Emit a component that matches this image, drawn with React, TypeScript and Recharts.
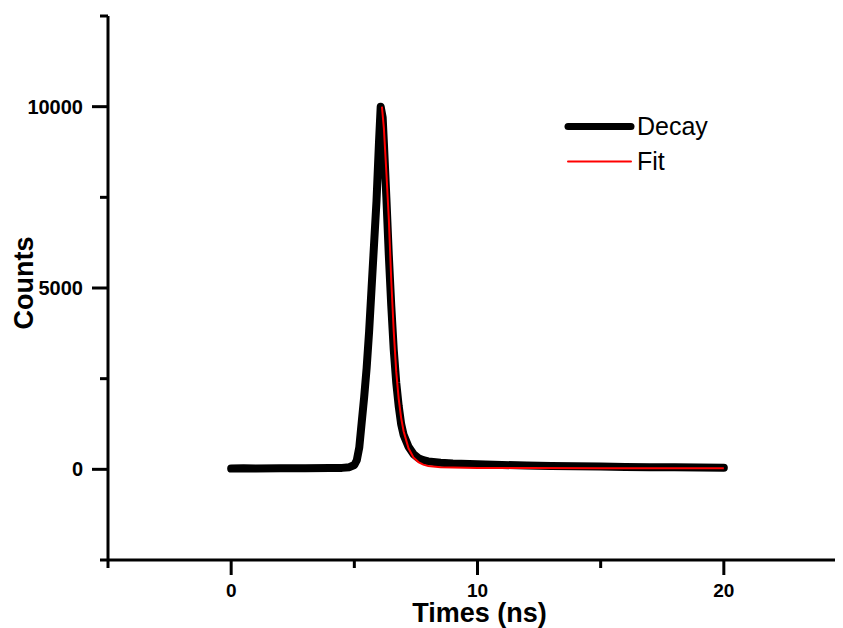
import React from 'react';
import { LineChart, Line, XAxis, YAxis, Legend, Label } from 'recharts';

const decayTimes = [0, 0.5, 1, 2, 3, 4, 4.5, 4.8, 5.0, 5.1, 5.2, 5.3, 5.4, 5.5, 5.6, 5.7, 5.8, 5.9, 6.0, 6.07, 6.15, 6.2, 6.3, 6.4, 6.5, 6.6, 6.7, 6.8, 6.9, 7.0, 7.2, 7.4, 7.6, 7.8, 8.0, 8.5, 9, 10, 11, 12, 13, 14, 15, 16, 17, 18, 19, 20];
const decayCounts = [20, 30, 25, 30, 30, 35, 40, 60, 120, 250, 600, 1300, 2000, 2800, 3800, 5000, 6200, 7400, 9000, 10000, 9700, 9000, 7500, 5900, 4500, 3300, 2400, 1750, 1250, 950, 620, 420, 310, 255, 220, 180, 160, 140, 120, 105, 95, 85, 75, 65, 60, 55, 50, 45];

const fitTimes = [6.12, 6.2, 6.3, 6.4, 6.5, 6.6, 6.7, 6.8, 6.9, 7.0, 7.2, 7.4, 7.6, 7.8, 8.0, 8.5, 9, 10, 12, 15, 20];
const fitCounts = [10000, 9400, 8200, 6900, 5200, 3800, 2700, 1950, 1420, 1050, 580, 330, 200, 130, 95, 60, 50, 40, 35, 30, 28];

const xTicks = [-5, 0, 5, 10, 15, 20, 25];
const xLabeled = [0, 10, 20];
const yTicks = [-2500, 0, 2500, 5000, 7500, 10000, 12500];
const yLabeled = [0, 5000, 10000];

const decayData = decayTimes.map((t, i) => ({ x: t, y: decayCounts[i] }));
const fitData = fitTimes.map((t, i) => ({ x: t, y: fitCounts[i] }));

const FONT = "'Liberation Sans', Arial, sans-serif";

const XTick = (props: any) => {
  const { x, y, payload } = props;
  const major = xLabeled.includes(payload.value);
  return (
    <g>
      <line x1={x} x2={x} y1={y} y2={y + (major ? 15 : 8)} stroke="#000" strokeWidth={3} />
      {major && (
        <text x={x} y={y + 37} textAnchor="middle" fontSize={19} fontWeight="bold" fontFamily={FONT} fill="#000">
          {payload.value}
        </text>
      )}
    </g>
  );
};

const YTick = (props: any) => {
  const { x, y, payload } = props;
  const major = yLabeled.includes(payload.value);
  return (
    <g>
      <line x1={x - (major ? 16 : 8)} x2={x} y1={y} y2={y} stroke="#000" strokeWidth={3} />
      {major && (
        <text x={x - 25} y={y + 7} textAnchor="end" fontSize={20} fontWeight="bold" fontFamily={FONT} fill="#000">
          {payload.value}
        </text>
      )}
    </g>
  );
};

const legendItems = [
  { name: 'Decay', color: '#000', width: 7 },
  { name: 'Fit', color: '#ff0000', width: 2 },
];

const renderLegend = () => (
  <div style={{ fontFamily: FONT }}>
    {legendItems.map((it) => (
      <div key={it.name} style={{ display: 'flex', alignItems: 'center', height: 35 }}>
        <svg width={73} height={35} style={{ display: 'block' }}>
          <line x1={4} x2={67} y1={17.5} y2={17.5} stroke={it.color} strokeWidth={it.width} strokeLinecap="round" />
        </svg>
        <span style={{ fontSize: 25, color: '#000', lineHeight: '35px' }}>{it.name}</span>
      </div>
    ))}
  </div>
);

export default function App() {
  return (
    <div style={{ width: 860, height: 620 }}>
      <style>{`html, body { overflow: hidden; }`}</style>
      <LineChart width={860} height={620} margin={{ top: 8, right: 21, bottom: 8, left: 0 }}>
        <XAxis
          type="number"
          dataKey="x"
          domain={[-5, 25]}
          ticks={xTicks}
          interval={0}
          allowDataOverflow
          height={60}
          tickSize={0}
          tickMargin={0}
          tickLine={false}
          tick={<XTick />}
          axisLine={{ stroke: '#000', strokeWidth: 3 }}
        >
          <Label
            content={(p: any) => {
              const vb = p.viewBox;
              return (
                <text x={vb.x + vb.width / 2 + 2} y={614} textAnchor="middle" fontSize={27} fontWeight="bold" fontFamily={FONT} fill="#000">
                  Times (ns)
                </text>
              );
            }}
          />
        </XAxis>
        <YAxis
          type="number"
          dataKey="y"
          domain={[-2500, 12500]}
          ticks={yTicks}
          interval={0}
          allowDataOverflow
          width={100}
          tickSize={0}
          tickMargin={0}
          tickLine={false}
          tick={<YTick />}
          axisLine={{ stroke: '#000', strokeWidth: 3 }}
        >
          <Label
            content={(p: any) => {
              const vb = p.viewBox;
              const cy = vb.y + vb.height / 2 - 5;
              return (
                <text x={25} y={cy} transform={`rotate(-90, 25, ${cy})`} textAnchor="middle" fontSize={27} fontWeight="bold" fontFamily={FONT} fill="#000">
                  Counts
                </text>
              );
            }}
          />
        </YAxis>
        <Legend
          layout="horizontal"
          verticalAlign="middle"
          align="center"
          content={renderLegend}
          wrapperStyle={{ position: 'absolute', left: 556, top: 101, width: 200, bottom: 'auto', right: 'auto' }}
        />
        <Line
          name="Decay"
          data={decayData}
          dataKey="y"
          type="linear"
          stroke="#000"
          strokeWidth={8}
          strokeLinecap="round"
          strokeLinejoin="round"
          dot={false}
          activeDot={false}
          isAnimationActive={false}
        />
        <Line
          name="Fit"
          data={fitData}
          dataKey="y"
          type="linear"
          stroke="#ff0000"
          strokeWidth={2}
          dot={false}
          activeDot={false}
          isAnimationActive={false}
        />
      </LineChart>
    </div>
  );
}
